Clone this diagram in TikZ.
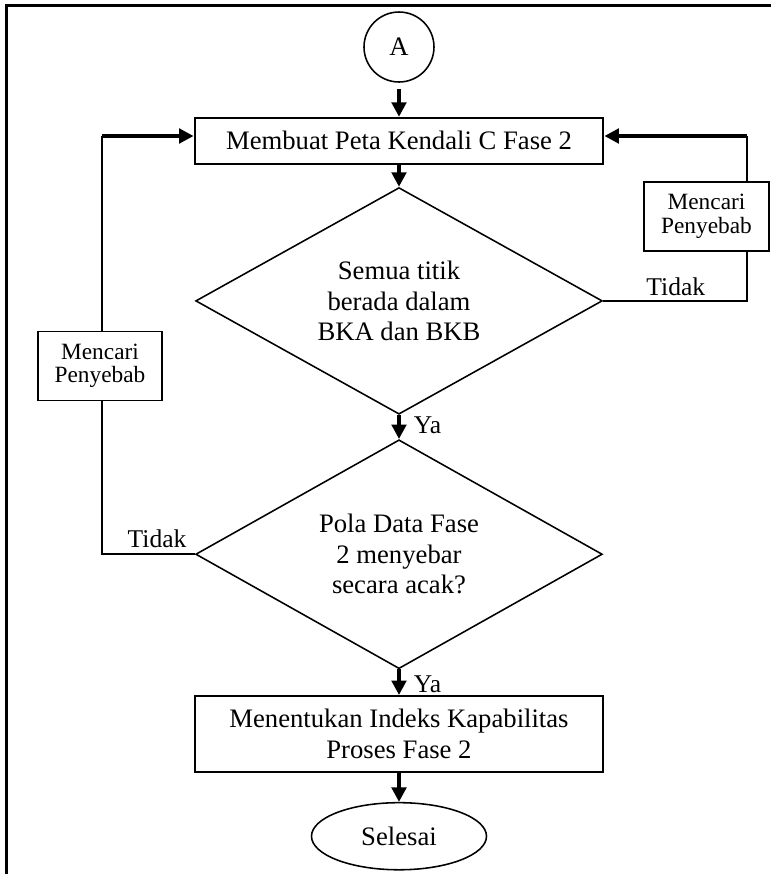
\documentclass[tikz,border=0pt]{standalone}
\usepackage{fontspec}
\setmainfont{Liberation Serif}
\usepackage{tikz}
\usetikzlibrary{shapes,arrows.meta,positioning}

\begin{document}
\begin{tikzpicture}[
    x=0.45pt, y=-0.45pt,
    font=\fontsize{12}{13.8}\selectfont,
    connector/.style={circle, draw, line width=0.7pt, minimum size=31.5pt, inner sep=0pt},
    process/.style={rectangle, draw, line width=0.9pt, minimum width=184pt, inner sep=2pt, align=center},
    decision/.style={diamond, aspect=1.8, draw, line width=0.7pt, minimum width=183pt, minimum height=102pt, inner sep=0pt, align=center},
    terminal/.style={ellipse, draw, line width=0.7pt, minimum width=78.75pt, minimum height=30.2pt, inner sep=0pt},
    sidebox/.style={rectangle, draw, line width=0.8pt, minimum width=56pt, minimum height=31pt, inner sep=1pt, align=center, font=\fontsize{10.5}{10.6}\selectfont},
    arrow/.style={->, >={Triangle[length=6.5pt,width=6.5pt]}, line width=1.6pt},
    link/.style={line width=0.7pt},
    lbl/.style={inner sep=0pt, font=\fontsize{11.5}{13}\selectfont},
]
    \useasboundingbox (0,0) rectangle (771,874);

    % Frame (top and left edge)
    \draw[line width=1pt] (6.5,874) -- (6.5,5.5) -- (771,5.5);

    % Main column
    \node[connector] (A) at (399,47) {A};
    \node[process, minimum height=20.7pt, below=15.3pt of A] (peta) {Membuat Peta Kendali C Fase 2};
    \node[decision, below=9.9pt of peta] (cek1) {Semua titik\\berada dalam\\BKA dan BKB};
    \node[decision, minimum height=103pt, below=10.8pt of cek1] (cek2) {Pola Data Fase\\2 menyebar\\secara acak?};
    \node[process, minimum height=34.2pt, below=11.5pt of cek2] (indeks) {Menentukan Indeks Kapabilitas\\Proses Fase 2};
    \node[terminal, below=13pt of indeks] (selesai) {Selesai};

    % Side boxes
    \node[sidebox] (cari1) at (706.5,216.5) {Mencari\\Penyebab};
    \node[sidebox] (cari2) at (100,366) {Mencari\\Penyebab};

    % Loop corners
    \coordinate (rtop) at (747,136);
    \coordinate (ltop) at (102,136);

    % Arrows down the main column
    \draw[arrow, shorten <=2.7pt] (A) -- (peta);
    \draw[arrow] (peta) -- (cek1);
    \draw[arrow] (cek1) -- (cek2);
    \draw[arrow] (cek2) -- (indeks);
    \draw[arrow] (indeks) -- (selesai);

    % Right loop
    \draw[link] (cek1.east) -- (cek1.east -| rtop) -- (cari1.south -| rtop);
    \draw[link] (cari1.north -| rtop) -- (rtop);
    \draw[arrow] (rtop) -- (peta.east |- rtop);

    % Left loop
    \draw[link] (cek2.west) -- (cek2.west -| ltop) -- (cari2.south -| ltop);
    \draw[link] (cari2.north -| ltop) -- (ltop);
    \draw[arrow] (ltop) -- (peta.west |- ltop);

    % Labels
    \node[lbl, anchor=south west] (tidak1) at ([xshift=19.3pt, yshift=2.2pt]cek1.east) {Tidak};
    \node[lbl, anchor=south east] (tidak2) at ([xshift=-3.6pt, yshift=2.5pt]cek2.west) {Tidak};
    \node[lbl, anchor=north west] (ya1) at ([xshift=6.5pt, yshift=-0.8pt]cek1.south) {Ya};
    \node[lbl, anchor=north west] (ya2) at ([xshift=6.5pt, yshift=-2.7pt]cek2.south) {Ya};
\end{tikzpicture}
\end{document}
